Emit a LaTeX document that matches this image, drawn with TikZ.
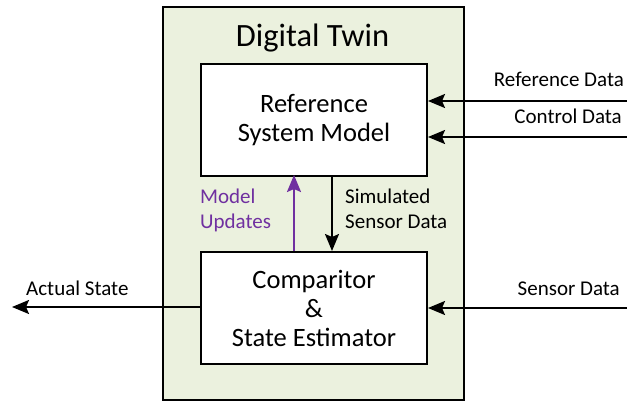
\documentclass[tikz,border=0pt]{standalone}
\usepackage{fontspec}
\setmainfont{Carlito}
\usetikzlibrary{arrows.meta}
\definecolor{dtgreen}{HTML}{EBF1DE}
\definecolor{dtpurple}{HTML}{7030A0}
\tikzset{
  box/.style={draw=black, line width=2pt, fill=white, inner sep=0pt},
  conn/.style={line width=2pt, -{Stealth[length=17pt,width=14pt,inset=3pt]}},
  small/.style={font=\fontsize{21}{24}\selectfont, inner sep=0pt},
  boxtext/.style={font=\fontsize{26.5}{32}\selectfont, align=center}
}
\begin{document}
\begin{tikzpicture}[x=1pt,y=-1pt]
\useasboundingbox (0,0) rectangle (627,402);
\node[box, fill=dtgreen, minimum width=301pt, minimum height=393pt, anchor=north west] (dt) at (162,6) {};
\node[font=\fontsize{32.5}{38}\selectfont, anchor=base] (title) at (312.5,46) {Digital Twin};
\node[box, minimum width=226pt, minimum height=112pt, anchor=north west] (rsm) at (200,63) {};
\node[boxtext] (rsmt) at (rsm.center) {Reference\\[-3pt]System Model};
\node[box, minimum width=226pt, minimum height=112pt, anchor=north west] (cse) at (200,251) {};
\node[boxtext] (cset) at (cse.center) {Comparitor\\[-3pt]\&\\[-3pt]State Estimator};
% right inputs
\coordinate (refin) at (627,101);
\coordinate (ctlin) at (627,137);
\coordinate (senin) at (627,308);
\coordinate (actout) at (12,307);
\draw[conn] (refin) -- (rsm.east |- refin);
\draw[conn] (ctlin) -- (rsm.east |- ctlin);
\draw[conn] (senin) -- (cse.east |- senin);
\draw[conn] (cse.west |- actout) -- (actout);
\node[small, anchor=base east] (refl) at (624,86) {Reference Data};
\node[small, anchor=base east] (ctll) at (622,123) {Control Data};
\node[small, anchor=base east] (senl) at (620,295) {Sensor Data};
\node[small, anchor=base west] (actl) at (26,295) {Actual State};
% vertical
\coordinate (mu1) at (294,251);
\coordinate (mu2) at (294,175);
\coordinate (sd1) at (332,175);
\coordinate (sd2) at (332,251);
\draw[conn, draw=dtpurple, fill=dtpurple] (mu1) -- (mu2);
\draw[conn] (sd1) -- (sd2);
\node[small, text=dtpurple, align=left, anchor=north west] (mul) at (200,189) {Model\\[1pt]Updates};
\node[small, align=left, anchor=north west] (sdl) at (345,189) {Simulated\\[1pt]Sensor Data};
\end{tikzpicture}
\end{document}
